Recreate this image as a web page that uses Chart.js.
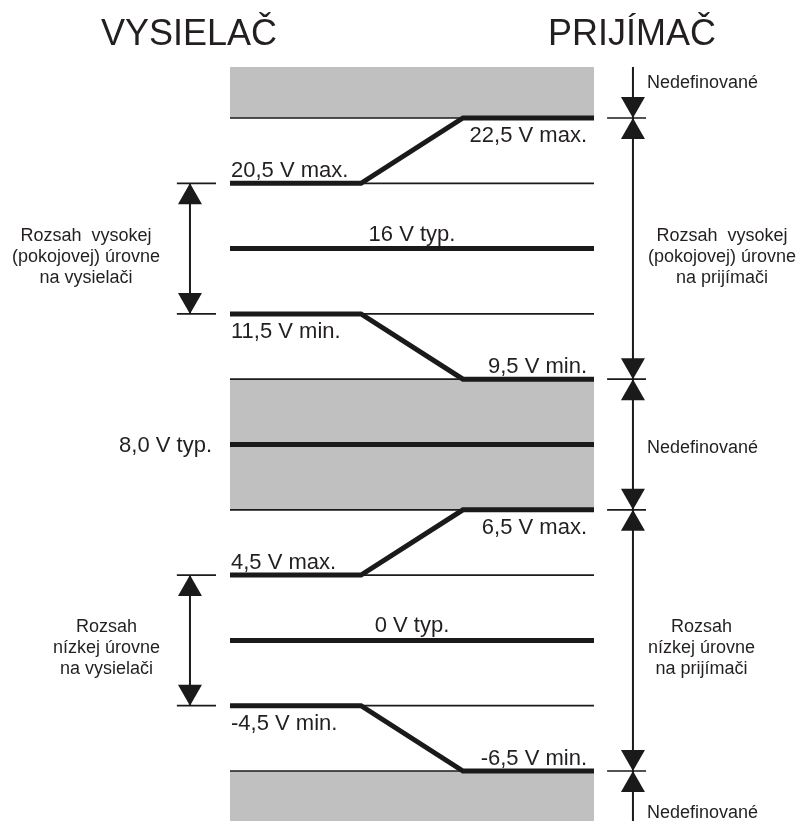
<!DOCTYPE html>
<html>
<head>
<meta charset="utf-8">
<script src="https://cdn.jsdelivr.net/npm/chart.js@4.4.1/dist/chart.umd.min.js"></script>
<style>
  html, body { margin: 0; padding: 0; background: #fff; }
  #wrap { width: 799px; height: 821px; position: relative; }
</style>
</head>
<body>
<div id="wrap"><canvas id="levelChart"></canvas></div>
<script>
// napäťové úrovne zhora nadol, poradie v poli = riadok v diagrame
const levels = [22.5, 20.5, 16, 11.5, 9.5, 8.0, 6.5, 4.5, 0, -4.5, -6.5];
const levelTexts = ['22,5 V max.', '20,5 V max.', '16 V typ.', '11,5 V min.', '9,5 V min.',
  '8,0 V typ.', '6,5 V max.', '4,5 V max.', '0 V typ.', '-4,5 V min.', '-6,5 V min.'];
const typLevels = [16, 8.0, 0];
// [vysielač, prijímač]
const transitions = [[20.5, 22.5], [11.5, 9.5], [4.5, 6.5], [-4.5, -6.5]];
// null = okraj obrázka
const undefinedBands = [[null, 22.5], [9.5, 6.5], [-6.5, null]];
const txRanges = [[20.5, 11.5], [4.5, -4.5]];
const rxRanges = [[22.5, 9.5], [6.5, -6.5]];
const titles = ['VYSIELAČ', 'PRIJÍMAČ'];
const txRangeTexts = [['Rozsah  vysokej', '(pokojovej) úrovne', 'na vysielači'],
  ['Rozsah', 'nízkej úrovne', 'na vysielači']];
const rxRangeTexts = [['Rozsah  vysokej', '(pokojovej) úrovne', 'na prijímači'],
  ['Rozsah', 'nízkej úrovne', 'na prijímači']];
const undefinedText = 'Nedefinované';

// layout (x v ľubovoľných jednotkách, čiary idú 0..100)
const X_L = 0, K1 = 36, K2 = 64, X_R = 100;
const TX_X = -11, RX_X = 110.7;
const EDGE = 0.78;
const INK = '#1a1a1a', TXT = '#231f20', GRAY = '#c0c0c0';
const FONT = "'Liberation Sans', Arial, sans-serif";

let slot = (v, side) => v === null ? (side < 0 ? -EDGE : levels.length - 1 + EDGE) : levels.indexOf(v);

let datasets = [];
let line = (pts, width, extra) => Object.assign({
  data: pts, showLine: true, borderColor: INK, borderWidth: width, order: 0,
  pointRadius: 0, pointHoverRadius: 0, fill: false, borderCapStyle: 'butt', borderJoinStyle: 'miter'
}, extra || {});

// šedé pásma (order 10 => kreslí sa ako prvé, pod čiarami)
undefinedBands.forEach(b => {
  let top = slot(b[0], -1), bot = slot(b[1], 1);
  datasets.push(line([{x: X_L, y: top}, {x: X_R, y: top}], 0,
    {fill: {value: bot}, backgroundColor: GRAY, borderColor: 'rgba(0,0,0,0)', order: 10}));
});
// tenké čiary úrovní
levels.forEach(v => {
  if (typLevels.includes(v)) return;
  datasets.push(line([{x: X_L, y: slot(v)}, {x: X_R, y: slot(v)}], 1.7, {order: 5}));
});
// typické úrovne
typLevels.forEach(v => {
  datasets.push(line([{x: X_L, y: slot(v)}, {x: X_R, y: slot(v)}], 5));
});
// prechody vysielač -> prijímač
transitions.forEach(t => {
  let a = slot(t[0]), b = slot(t[1]);
  datasets.push(line([{x: X_L, y: a}, {x: K1, y: a}, {x: K2, y: b}, {x: X_R, y: b}], 5));
});
// šípky vysielača
txRanges.forEach(r => {
  let a = slot(r[0]), b = slot(r[1]);
  datasets.push(line([{x: TX_X, y: a}, {x: TX_X, y: b}], 2, {heads: [true, true]}));
  [a, b].forEach(s => datasets.push(line([{x: TX_X - 3.6, y: s}, {x: TX_X + 7.15, y: s}], 1.7)));
});
// šípky prijímača
undefinedBands.concat(rxRanges).forEach(r => {
  let a = slot(r[0], -1), b = slot(r[1], 1);
  datasets.push(line([{x: RX_X, y: a}, {x: RX_X, y: b}], 2, {heads: [r[0] !== null, r[1] !== null]}));
});
[22.5, 9.5, 6.5, -6.5].forEach(v => {
  datasets.push(line([{x: RX_X - 7.1, y: slot(v)}, {x: RX_X + 3.6, y: slot(v)}], 1.7));
});

const arrowHeads = {
  id: 'arrowHeads',
  afterDatasetsDraw(chart) {
    let ctx = chart.ctx;
    ctx.save();
    ctx.fillStyle = INK;
    chart.data.datasets.forEach((ds, i) => {
      if (!ds.heads) return;
      let pts = chart.getDatasetMeta(i).data;
      [0, 1].forEach(k => {
        if (!ds.heads[k]) return;
        let p = pts[k], q = pts[1 - k];
        let dx = p.x - q.x, dy = p.y - q.y, len = Math.hypot(dx, dy);
        dx /= len; dy /= len;
        let h = 21, w = 12;
        let bx = p.x - dx * h, by = p.y - dy * h;
        ctx.beginPath();
        ctx.moveTo(p.x, p.y);
        ctx.lineTo(bx - dy * w, by + dx * w);
        ctx.lineTo(bx + dy * w, by - dx * w);
        ctx.closePath();
        ctx.fill();
      });
    });
    ctx.restore();
  }
};

const texts = {
  id: 'texts',
  afterDatasetsDraw(chart) {
    let ctx = chart.ctx, xs = chart.scales.x, ys = chart.scales.y;
    let X = u => xs.getPixelForValue(u);
    let Y = (v, side) => ys.getPixelForValue(slot(v, side));
    ctx.save();
    ctx.fillStyle = TXT;
    ctx.textBaseline = 'alphabetic';

    ctx.font = '36px ' + FONT;
    ctx.textAlign = 'center';
    ctx.fillText(titles[0], X(TX_X) - 1, ys.getPixelForValue(-1.118));
    ctx.fillText(titles[1], X(RX_X) - 1, ys.getPixelForValue(-1.118));

    ctx.font = '22px ' + FONT;
    let label = v => levelTexts[levels.indexOf(v)];
    transitions.forEach(t => {
      let up = t[1] > t[0];
      ctx.textAlign = 'left';
      ctx.fillText(label(t[0]), X(X_L) + 1, Y(t[0]) + (up ? -6 : 24));
      ctx.textAlign = 'right';
      ctx.fillText(label(t[1]), X(X_R) - 7, Y(t[1]) + (up ? 24 : -6));
    });
    typLevels.forEach(v => {
      let inBand = undefinedBands.some(b => b[0] !== null && b[1] !== null && v < b[0] && v > b[1]);
      if (inBand) {
        ctx.textAlign = 'right';
        ctx.fillText(label(v), X(X_L) - 18, Y(v) + 8);
      } else {
        ctx.textAlign = 'center';
        ctx.fillText(label(v), X(X_L + 50), Y(v) - 8);
      }
    });

    ctx.font = '18px ' + FONT;
    ctx.textAlign = 'center';
    let block = (lines, mid, edge, right) => {
      let w = Math.max(...lines.map(s => ctx.measureText(s).width));
      let cx = right ? edge - w / 2 : edge + w / 2;
      lines.forEach((s, i) => ctx.fillText(s, cx, mid - 8 + i * 21));
    };
    txRanges.forEach((r, i) => block(txRangeTexts[i], (Y(r[0]) + Y(r[1])) / 2, X(TX_X) - 30, true));
    rxRanges.forEach((r, i) => block(rxRangeTexts[i], (Y(r[0]) + Y(r[1])) / 2, X(RX_X) + 15, false));

    ctx.textAlign = 'left';
    undefinedBands.forEach(b => {
      let y;
      if (b[0] === null) y = Y(b[1]) - 30;
      else if (b[1] === null) y = Y(b[0]) + 47;
      else y = (Y(b[0]) + Y(b[1])) / 2 + 9;
      ctx.fillText(undefinedText, X(RX_X) + 14, y);
    });
    ctx.restore();
  }
};

new Chart(document.getElementById('levelChart'), {
  type: 'scatter',
  data: {datasets: datasets},
  options: {
    animation: false,
    responsive: true,
    maintainAspectRatio: false,
    layout: {padding: 0},
    events: [],
    plugins: {legend: {display: false}, tooltip: {enabled: false}},
    scales: {
      x: {type: 'linear', display: false, min: -63.19, max: 156.32},
      y: {type: 'linear', display: false, min: -1.807, max: 10.766, reverse: true}
    }
  },
  plugins: [arrowHeads, texts]
});
</script>
</body>
</html>
